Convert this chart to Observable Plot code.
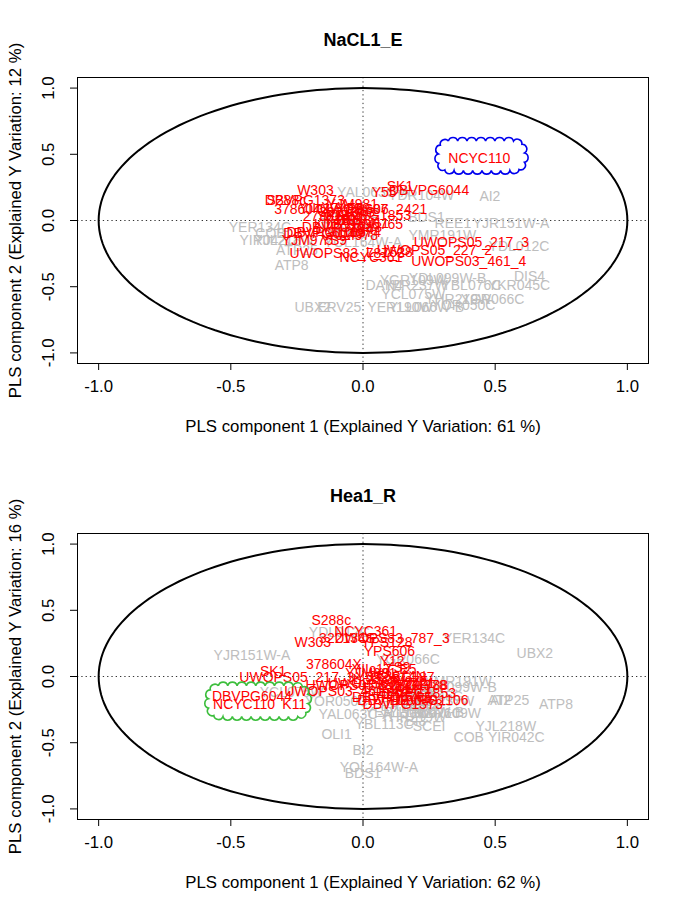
<!DOCTYPE html>
<html><head><meta charset="utf-8">
<script src="https://cdn.jsdelivr.net/npm/d3@7"></script>
<script src="https://cdn.jsdelivr.net/npm/@observablehq/plot@0.6"></script>
<style>
body{margin:0;background:#fff;}
#chart svg{display:block;}
</style></head><body><div id="chart"></div>
<script>
const xTicks = [-1, -0.5, 0, 0.5, 1];
const yTicks = [-1, -0.5, 0, 0.5, 1];

// ---------- Panel 1: NaCL1_E ----------
const title1 = "NaCL1_E";
const xLabel1 = "PLS component 1 (Explained Y Variation: 61 %)";
const yLabel1 = "PLS component 2 (Explained Y Variation: 12 %)";
const strains1 = ["NCYC110","SK1","Y55","DBVPG6044","W303","DBVPG1373","S288c","YJM981","378604X","UWOPS87_2421","DBVPG1853","DBVPG6765","DBVPG1106","DBVPG6040","YJM975","YS9","UWOPS83_787_3","L_1528","UWOPS05_227_2","NCYC361","UWOPS05_217_3","UWOPS03_461_4","273614N","322134S","BC187","DBVPG1788","L_1374","RM11","Y12","Y9","YIIc17_E5","YJM978","YPS128","YPS606","YS2","YS4","K11"];
const strainX1 = [0.44,0.14,0.08,0.25,-0.18,-0.22,-0.29,-0.04,-0.23,0.04,0.03,0.00,-0.14,-0.15,-0.21,-0.11,-0.06,0.10,0.27,0.03,0.41,0.40,-0.12,-0.06,-0.02,-0.08,-0.02,0.03,-0.10,-0.06,-0.12,-0.04,-0.08,0.00,-0.05,-0.01,-0.14];
const strainY1 = [0.47,0.26,0.21,0.23,0.23,0.15,0.15,0.12,0.08,0.08,0.04,-0.03,-0.09,-0.10,-0.15,-0.15,-0.25,-0.24,-0.23,-0.28,-0.17,-0.31,0.03,0.06,0.00,-0.05,-0.09,-0.02,0.00,0.01,0.09,-0.11,0.04,0.08,-0.04,-0.07,-0.03];
const genes1 = ["YAL063C-A","YDR104W","AI2","BDS1","REE1","YJR151W-A","YMR191W","YDL012C","YGR109W","YDL099W-B","DAN4","YLR237W","YBL076C","YKR045C","DIS4","YCL075W","YHR219W","YGR066C","YOR050C","YER190W","YLL066W-B","UBX2","ERV25","ATP8","YER134C","COB","YJL218W","YIR042C","ATP25","OLI1","SCEI","BI2","BI3","YBL113C","YOL164W-A"];
const geneX1 = [0.04,0.22,0.48,0.24,0.34,0.56,0.30,0.59,0.19,0.32,0.08,0.20,0.41,0.59,0.63,0.19,0.36,0.49,0.38,0.14,0.24,-0.19,-0.09,-0.27,-0.39,-0.35,-0.30,-0.36,-0.25,-0.08,-0.04,0.02,-0.12,-0.06,0.00];
const geneY1 = [0.21,0.19,0.18,0.02,-0.02,-0.02,-0.11,-0.20,-0.45,-0.44,-0.49,-0.49,-0.49,-0.49,-0.42,-0.56,-0.60,-0.60,-0.64,-0.66,-0.66,-0.66,-0.66,-0.34,-0.05,-0.10,-0.15,-0.15,-0.23,0.02,-0.05,0.05,-0.02,-0.09,-0.17];
const cloud1 = [0.27, 0.63, 0.34, 0.63]; // x1, x2, y1, y2
const cloudColor1 = "#0000EE";

// ---------- Panel 2: Hea1_R ----------
const title2 = "Hea1_R";
const xLabel2 = "PLS component 1 (Explained Y Variation: 62 %)";
const yLabel2 = "PLS component 2 (Explained Y Variation: 16 %)";
const strains2 = ["S288c","NCYC361","W303","322134S","UWOPS83_787_3","YPS128","YPS606","Y12","YS9","YIIc17_E5","378604X","BC187","DBVPG1788","DBVPG1106","DBVPG6765","DBVPG1373","UWOPS05_217_3","SK1","UWOPS03_461_4","UWOPS05_227_2","UWOPS87_2421","DBVPG6044","NCYC110","K11","273614N","RM11","L_1374","L_1528","DBVPG1853","YJM975","YJM978","YJM981","Y55","Y9","YS2","YS4","DBVPG6040"];
const strainX2 = [-0.12,0.01,-0.19,-0.06,0.11,0.09,0.10,0.11,0.13,0.08,-0.11,0.19,0.17,0.25,0.11,0.15,-0.25,-0.34,-0.08,0.00,0.07,-0.42,-0.45,-0.26,0.13,0.19,0.09,0.05,0.20,0.15,0.22,0.03,0.02,0.07,0.13,0.17,0.13];
const strainY2 = [0.42,0.34,0.26,0.29,0.29,0.26,0.19,0.11,0.07,0.05,0.09,-0.01,-0.07,-0.18,-0.16,-0.21,-0.01,0.04,-0.11,-0.07,-0.05,-0.15,-0.21,-0.21,0.00,-0.10,-0.08,-0.02,-0.13,-0.04,-0.07,0.02,-0.01,0.02,-0.11,-0.15,-0.18];
const genes2 = ["YDL012C","YJR151W-A","YER134C","YGR066C","UBX2","ATP25","AI2","ATP8","YJL218W","COB","YIR042C","SCEI","YBL113C","BI3","YAL063C-A","YLL066W-B","YER190W","OLI1","BI2","YOL164W-A","BDS1","YMR191W","YDL099W-B","YCL075W","YOR050C","DIS4","YKR045C","REE1","YDR104W","DAN4","YLR237W","YBL076C","YGR109W","YHR219W","ERV25"];
const geneX2 = [-0.09,-0.42,0.42,0.17,0.65,0.55,0.52,0.73,0.54,0.40,0.58,0.25,0.08,0.20,-0.03,0.24,0.13,-0.10,0.00,0.06,0.00,0.36,0.36,-0.27,-0.10,0.22,0.26,0.19,0.15,0.22,0.30,0.26,0.32,0.19,0.15];
const geneY2 = [0.33,0.16,0.29,0.13,0.17,-0.18,-0.18,-0.21,-0.38,-0.46,-0.46,-0.38,-0.36,-0.34,-0.29,-0.27,-0.27,-0.44,-0.56,-0.69,-0.73,-0.04,-0.08,-0.12,-0.19,-0.11,-0.15,-0.19,-0.11,-0.23,-0.19,-0.28,-0.28,-0.31,-0.23];
const cloud2 = [-0.60, -0.19, -0.34, -0.04];
const cloudColor2 = "#3DBE3D";

// ---------- helpers ----------
const fmt = d => d.toFixed(1);
const circle = d3.range(0, 361, 2).map(a => ({x: Math.cos(a * Math.PI / 180), y: Math.sin(a * Math.PI / 180)}));

function cloudMark(box, color) {
  return (index, scales) => {
    const X0 = scales.x(box[0]), X1 = scales.x(box[1]);
    const Y0 = scales.y(box[3]), Y1 = scales.y(box[2]);
    const b = 4.5;
    const L = X0 + b, R = X1 - b, T = Y0 + b, B = Y1 - b;
    const rc = Math.min((B - T) / 2, 10);
    const w = R - L - 2 * rc, h = B - T - 2 * rc, q = Math.PI / 2 * rc;
    const parts = [
      ["line", L + rc, T, 1, 0, w],
      ["arc", R - rc, T + rc, -Math.PI / 2, q],
      ["line", R, T + rc, 0, 1, h],
      ["arc", R - rc, B - rc, 0, q],
      ["line", R - rc, B, -1, 0, w],
      ["arc", L + rc, B - rc, Math.PI / 2, q],
      ["line", L, B - rc, 0, -1, h],
      ["arc", L + rc, T + rc, Math.PI, q]
    ];
    const P = 2 * w + 2 * h + 4 * q;
    function pt(s) {
      for (const p of parts) {
        const len = p[0] === "line" ? p[5] : p[4];
        if (s <= len + 1e-9) {
          if (p[0] === "line") return [p[1] + p[3] * s, p[2] + p[4] * s];
          const a = p[3] + s / rc;
          return [p[1] + rc * Math.cos(a), p[2] + rc * Math.sin(a)];
        }
        s -= len;
      }
      return [L + rc, T];
    }
    const N = Math.round(P / 9.5);
    let prev = pt(0);
    let d = `M${prev[0]},${prev[1]}`;
    for (let i = 1; i <= N; i++) {
      const c = pt((i % N) * P / N);
      const chord = Math.hypot(c[0] - prev[0], c[1] - prev[1]);
      const r = chord / 2 * 1.03;
      d += `A${r},${r} 0 0 1 ${c[0]},${c[1]}`;
      prev = c;
    }
    return d3.create("svg:path").attr("d", d).attr("fill", "none")
      .attr("stroke", color).attr("stroke-width", 1.6).node();
  };
}

function panel(title, xLabel, yLabel, strains, sx, sy, genes, gx, gy, cloud, cloudColor) {
  const sData = strains.map((n, i) => ({name: n, x: sx[i], y: sy[i]}));
  const gData = genes.map((n, i) => ({name: n, x: gx[i], y: gy[i]}));
  return Plot.plot({
    width: 685, height: 456,
    marginLeft: 77, marginRight: 37, marginTop: 77, marginBottom: 93,
    x: {domain: [-1.08, 1.08]},
    y: {domain: [-1.08, 1.08]},
    style: {fontFamily: "'Liberation Sans', Arial, sans-serif", fontSize: "14px", background: "white", color: "black"},
    marks: [
      Plot.ruleX([0], {stroke: "#333", strokeDasharray: "1.3,3"}),
      Plot.ruleY([0], {stroke: "#333", strokeDasharray: "1.3,3"}),
      Plot.line(circle, {x: "x", y: "y", stroke: "black", strokeWidth: 2}),
      Plot.text(gData, {x: "x", y: "y", text: "name", fill: "#BEBEBE", fontSize: 14}),
      Plot.text(sData, {x: "x", y: "y", text: "name", fill: "#FF0000", fontSize: 14}),
      cloudMark(cloud, cloudColor),
      Plot.frame({stroke: "black", strokeWidth: 1}),
      Plot.axisX({ticks: xTicks, tickSize: 7, tickFormat: () => "", label: null, stroke: "black"}),
      Plot.axisY({ticks: yTicks, tickSize: 7, tickFormat: () => "", label: null, stroke: "black"}),
      Plot.text(xTicks, {x: d => d, text: fmt, frameAnchor: "bottom", lineAnchor: "middle", dy: 23, fontSize: 16.8, fill: "black"}),
      Plot.text(yTicks, {y: d => d, text: fmt, frameAnchor: "left", textAnchor: "middle", lineAnchor: "middle", dx: -29, rotate: -90, fontSize: 16.8, fill: "black"}),
      Plot.text([xLabel], {text: d => d, frameAnchor: "bottom", lineAnchor: "middle", dy: 63, fontSize: 16.8, fill: "black"}),
      Plot.text([yLabel], {text: d => d, frameAnchor: "left", textAnchor: "middle", lineAnchor: "middle", dx: -62, rotate: -90, fontSize: 16.8, fill: "black"}),
      Plot.text([title], {text: d => d, frameAnchor: "top", lineAnchor: "middle", dy: -37, fontSize: 18, fontWeight: "bold", fill: "black"})
    ]
  });
}

const el = document.getElementById("chart");
el.append(panel(title1, xLabel1, yLabel1, strains1, strainX1, strainY1, genes1, geneX1, geneY1, cloud1, cloudColor1));
el.append(panel(title2, xLabel2, yLabel2, strains2, strainX2, strainY2, genes2, geneX2, geneY2, cloud2, cloudColor2));
</script></body></html>
